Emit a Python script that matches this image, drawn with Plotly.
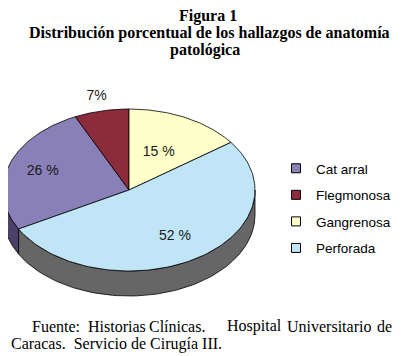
import numpy as np
import plotly.graph_objects as go

# ---- data ----
categories = ["Cat arral", "Flegmonosa", "Gangrenosa", "Perforada"]
values = [26, 7, 15, 52]
value_labels = ["26 %", "7%", "15 %", "52 %"]

# ---- styles ----
top_colors = ["#8a80b8", "#8b2b3c", "#ffffca", "#bfe5f7"]
side_colors = ["#4b4068", "#4a1620", "#8c8c6c", "#666666"]
label_r = [0.72, 1.18, 0.52, 0.68]

# page body adds an 8px margin: the figure is drawn at (8, 8)
OFF = 8
W, H = 403 - OFF, 356 - OFF
cx, cy, a, b, depth = 129, 190, 126, 81, 25
total = sum(values)
# Flegmonosa ends at 12 o'clock; slices run clockwise
start_cw = 360 - (values[0] + values[1]) / total * 360

def pt(theta_deg, dy=0.0):
    t = np.radians(theta_deg)
    return cx + a * np.cos(t), cy - b * np.sin(t) + dy

fig = go.Figure()

cum = 0.0
slices = []
for v in values:
    cw0 = start_cw + cum / total * 360
    cw1 = start_cw + (cum + v) / total * 360
    slices.append((90 - cw0, 90 - cw1))  # math angles, decreasing
    cum += v

# side walls (visible lower half)
for i, (t0, t1) in enumerate(slices):
    hi, lo = t0, t1
    for k in (-2, -1, 0, 1):
        s_lo, s_hi = -180 + 360 * k, 0 + 360 * k
        l, h = max(lo, s_lo), min(hi, s_hi)
        if h - l > 0.01:
            ts = np.linspace(l, h, 80)
            xs_t, ys_t = pt(ts)
            xs_b, ys_b = pt(ts[::-1], depth)
            xs = np.concatenate([xs_t, xs_b, xs_t[:1]])
            ys = np.concatenate([ys_t, ys_b, ys_t[:1]])
            fig.add_trace(go.Scatter(x=xs, y=ys, mode="lines", fill="toself",
                                     fillcolor=side_colors[i],
                                     line=dict(color="#000000", width=0.8),
                                     showlegend=False, hoverinfo="skip"))

# top faces
for i, (t0, t1) in enumerate(slices):
    ts = np.linspace(t0, t1, 120)
    xs, ys = pt(ts)
    xs = np.concatenate([[cx], xs, [cx]])
    ys = np.concatenate([[cy], ys, [cy]])
    fig.add_trace(go.Scatter(x=xs, y=ys, mode="lines", fill="toself",
                             fillcolor=top_colors[i],
                             line=dict(color="#000000", width=0.8),
                             showlegend=False, hoverinfo="skip",
                             name=categories[i]))

# value labels
lx, ly = [], []
for i, (t0, t1) in enumerate(slices):
    m = np.radians((t0 + t1) / 2)
    lx.append(cx + label_r[i] * a * np.cos(m))
    ly.append(cy - label_r[i] * b * np.sin(m))
fig.add_trace(go.Scatter(x=lx, y=ly, mode="text", text=value_labels,
                         textfont=dict(family="Liberation Sans", size=14, color="#1a1a1a"),
                         showlegend=False, hoverinfo="skip"))

# legend entries
for i, c in enumerate(categories):
    fig.add_trace(go.Scatter(x=[None], y=[None], mode="markers", name=c,
                             legendgroup=c,
                             marker=dict(symbol="square", size=9, color=top_colors[i],
                                         line=dict(color="#000000", width=1))))

serif = dict(family="Liberation Serif", size=16, color="#000")
ann = lambda text, x, y, xa="center", font=serif: dict(
    text=text, x=x, y=y, xref="x", yref="y", xanchor=xa, yanchor="middle",
    showarrow=False, font=font)

# justified source line, word by word
src_words = ["Fuente:", "Historias", "Clínicas.", "Hospital", "Universitario", "de"]
src_x = [30, 86, 147, 225, 285, 375]

annotations = [
    ann("<b>Figura 1</b>", 208, 16),
    ann("<b>Distribución porcentual de los hallazgos de anatomía</b>", 209, 32.5),
    ann("<b>patológica</b>", 205, 49.5),
    ann("Caracas.  Servicio de Cirugía III.", 8.5, 344, "left"),
]
annotations += [ann(w, x, 326, "left") for w, x in zip(src_words, src_x)]

fig.update_layout(
    width=W, height=H,
    margin=dict(l=0, r=0, t=0, b=0),
    paper_bgcolor="white", plot_bgcolor="white",
    xaxis=dict(range=[OFF, 403], visible=False, fixedrange=True),
    yaxis=dict(range=[356, OFF], visible=False, fixedrange=True),
    showlegend=True,
    legend=dict(x=(276 - OFF) / W, y=1 - (153 - OFF) / H, xanchor="left", yanchor="top",
                font=dict(family="Liberation Sans", size=13.5, color="#000000"),
                tracegroupgap=6, bgcolor="rgba(0,0,0,0)", itemwidth=30),
    annotations=annotations,
)

fig.write_html("out.html")
